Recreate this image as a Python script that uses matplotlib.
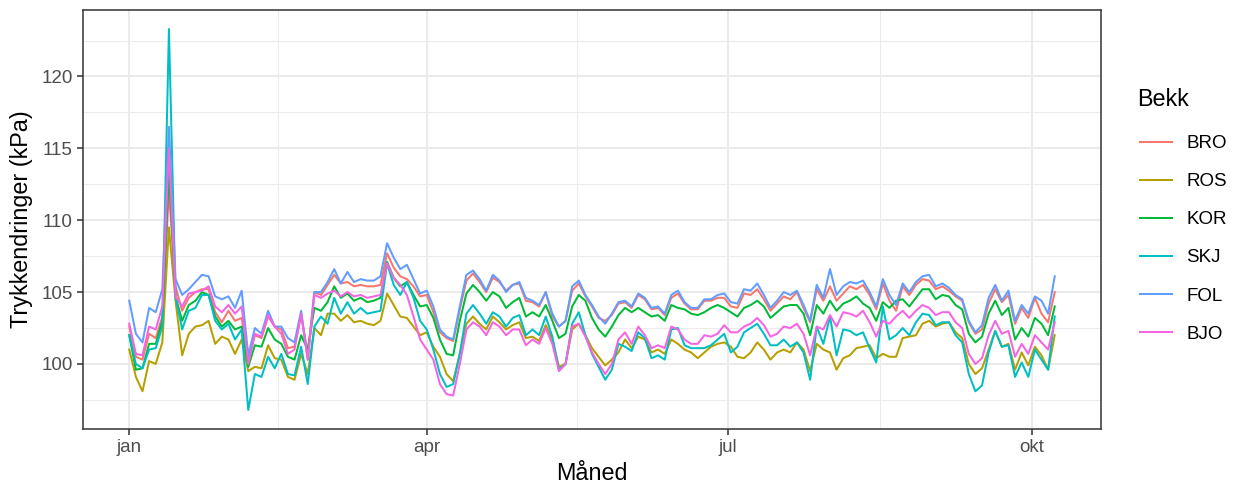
import matplotlib
matplotlib.use("Agg")
import matplotlib.pyplot as plt
import pandas as pd
import numpy as np

# ---- data (every 2nd day from 1 Jan) ----
start_date = "2019-01-01"
n_points = 141
series_names = ["BRO", "ROS", "KOR", "SKJ", "FOL", "BJO"]
series_colors = ["#F8766D", "#B79F00", "#00BA38", "#00BFC4", "#619CFF", "#F564E3"]

FOL = [104.4, 102.1, 101.5, 103.9, 103.6, 105.2, 116.5, 105.9, 104.8, 105.2, 105.7, 106.2, 106.1, 104.7, 104.5, 104.7, 103.9, 105.1, 100.6, 102.5, 102.1, 103.7, 102.6,
       102.6, 101.8, 101.5, 103.7, 100.3, 105.0, 105.0, 105.7, 106.6, 105.6, 106.4, 105.7, 105.9, 105.8, 105.8, 106.1, 108.4, 107.4, 106.6, 106.9, 105.9, 104.9, 105.1, 104.0, 102.4, 101.9,
       101.7, 104.0, 106.2, 106.5, 105.9, 105.1, 106.2, 105.8, 105.0, 105.5, 105.7, 104.6, 104.4, 104.1, 105.0, 103.5, 102.6, 103.0, 105.4, 105.8, 104.8, 104.1, 103.3, 102.8, 103.5, 104.3,
       104.4, 104.0, 104.9, 104.6, 103.9, 104.0, 103.5, 104.8, 105.1, 104.3, 103.9, 103.9, 104.5, 104.5, 104.8, 104.9, 104.3, 104.2, 105.2, 105.1, 105.6, 104.8, 103.9, 104.4, 105.0, 104.8,
       105.1, 104.1, 103.0, 105.5, 104.6, 106.6, 104.8, 105.4, 105.7, 105.6, 105.8, 105.0, 104.0, 105.9, 104.8, 104.1, 105.6, 105.0, 105.7, 106.1, 106.2, 105.4, 105.6, 105.3, 104.8, 104.5,
       103.0, 102.2, 102.7, 104.6, 105.5, 104.4, 105.1, 103.0, 104.1, 103.5, 104.7, 104.4, 103.5, 106.1]

BRO = [102.6, 100.5, 100.3, 102.1, 101.8, 103.3, 112.0, 105.4, 103.7, 104.6, 105.0, 105.2, 105.2, 103.6, 102.9, 103.7, 103.0, 103.2, 100.3, 102.0, 101.8, 103.3, 102.6,
       102.4, 101.1, 101.2, 103.4, 100.7, 105.0, 104.8, 105.5, 106.2, 105.6, 105.7, 105.4, 105.5, 105.4, 105.4, 105.5, 107.7, 106.7, 106.1, 105.9, 105.4, 104.7, 104.8, 103.6, 102.2, 101.8,
       101.6, 103.8, 105.8, 106.3, 105.7, 105.0, 106.0, 105.7, 105.1, 105.5, 105.6, 104.4, 104.3, 104.0, 105.0, 103.3, 102.6, 103.0, 105.1, 105.6, 104.7, 104.0, 103.2, 103.0, 103.4, 104.2,
       104.3, 103.9, 104.8, 104.5, 103.8, 103.9, 103.4, 104.6, 104.9, 104.2, 103.8, 103.8, 104.4, 104.4, 104.6, 104.6, 104.0, 103.9, 104.9, 104.8, 105.2, 104.5, 103.7, 104.2, 104.7, 104.5,
       105.0, 103.9, 102.9, 105.2, 104.4, 105.4, 104.4, 104.9, 105.4, 105.2, 105.5, 104.8, 103.8, 105.6, 104.4, 103.7, 105.4, 104.8, 105.5, 105.9, 105.8, 105.2, 105.4, 105.1, 104.7, 104.4,
       102.9, 102.1, 102.4, 104.2, 105.2, 104.3, 104.8, 102.8, 103.9, 103.2, 104.6, 103.5, 102.9, 105.0]

KOR = [102.0, 99.6, 99.7, 101.4, 101.4, 103.0, 113.5, 104.7, 103.0, 104.1, 104.4, 105.0, 104.8, 103.3, 102.6, 103.0, 102.4, 102.6, 99.8, 101.3, 101.2, 102.5, 101.7,
       101.4, 100.5, 100.3, 102.0, 101.0, 103.9, 103.7, 104.3, 105.4, 104.6, 104.9, 104.4, 104.6, 104.3, 104.4, 104.6, 107.1, 106.0, 105.4, 105.7, 104.8, 104.0, 104.1, 103.2, 101.7, 100.7,
       100.6, 103.0, 104.9, 105.5, 105.0, 104.4, 105.0, 104.7, 103.9, 104.3, 104.6, 103.3, 103.6, 103.3, 104.1, 103.0, 101.8, 102.1, 104.0, 104.8, 104.4, 103.2, 102.4, 101.9, 102.6, 103.4,
       103.9, 103.6, 103.9, 103.6, 103.3, 103.4, 103.0, 104.1, 103.9, 103.8, 103.5, 103.4, 103.6, 103.9, 104.1, 103.9, 103.6, 103.3, 103.9, 104.1, 104.4, 104.0, 103.2, 103.6, 104.0, 104.1,
       104.1, 103.5, 102.0, 104.1, 103.5, 104.4, 103.7, 104.2, 104.4, 104.7, 104.2, 103.9, 103.0, 104.3, 103.9, 104.4, 104.5, 104.0, 104.6, 105.2, 105.2, 104.5, 104.8, 104.7, 104.1, 103.8,
       102.1, 101.5, 101.9, 103.5, 104.4, 103.4, 103.9, 101.7, 102.5, 101.9, 103.2, 102.8, 102.0, 104.0]

SKJ = [102.0, 100.0, 99.7, 101.0, 101.1, 102.6, 123.3, 104.7, 102.4, 103.7, 103.9, 104.8, 104.8, 103.0, 102.4, 102.8, 101.7, 102.4, 96.8, 99.3, 99.1, 100.5, 99.7,
       100.7, 99.3, 99.2, 101.2, 98.6, 102.6, 103.3, 102.8, 104.6, 103.5, 104.3, 103.5, 103.9, 103.5, 103.6, 103.7, 107.0, 105.5, 104.8, 105.7, 104.6, 103.0, 102.4, 101.0, 99.3, 98.4,
       98.6, 100.7, 103.5, 104.1, 103.5, 102.8, 103.6, 103.3, 102.6, 103.2, 103.4, 102.0, 102.4, 102.0, 103.3, 101.9, 99.6, 100.0, 102.8, 103.6, 102.0, 100.7, 99.8, 98.9, 99.6, 101.4,
       101.2, 100.9, 102.2, 101.8, 100.4, 100.6, 100.3, 102.4, 102.5, 101.3, 101.1, 101.1, 101.1, 101.3, 101.7, 102.1, 100.8, 101.2, 102.2, 102.5, 102.8, 102.1, 101.3, 101.3, 101.7, 101.2,
       101.5, 100.8, 98.9, 102.6, 101.4, 103.3, 100.6, 102.4, 102.3, 102.0, 102.2, 101.1, 100.1, 104.0, 101.7, 102.0, 102.5, 102.0, 102.9, 103.5, 103.4, 102.7, 102.9, 102.9, 102.0, 101.5,
       99.3, 98.1, 98.5, 100.8, 102.3, 101.2, 101.3, 99.1, 100.1, 99.1, 101.0, 100.3, 99.6, 103.3]

ROS = [101.0, 99.1, 98.1, 100.2, 100.0, 101.5, 109.5, 104.4, 100.6, 102.1, 102.6, 102.7, 103.0, 101.4, 101.9, 101.7, 100.7, 101.7, 99.5, 99.8, 99.7, 101.3, 100.4,
       100.3, 99.1, 98.9, 100.7, 99.3, 102.5, 102.0, 103.5, 103.5, 103.0, 103.4, 102.9, 103.0, 102.8, 102.7, 103.0, 104.9, 104.1, 103.3, 103.2, 102.6, 102.0, 102.2, 101.2, 100.5, 99.3,
       98.8, 100.7, 102.8, 103.3, 102.8, 102.4, 103.3, 102.9, 102.4, 102.7, 102.9, 101.8, 101.9, 101.6, 102.7, 101.7, 99.8, 100.0, 102.4, 102.8, 102.0, 101.1, 100.5, 99.9, 100.3, 100.8,
       101.7, 101.1, 101.9, 101.7, 100.8, 101.0, 100.7, 101.7, 101.4, 101.0, 100.8, 100.4, 100.8, 101.2, 101.4, 101.5, 101.2, 100.5, 100.4, 100.8, 101.5, 101.0, 100.3, 100.8, 101.0, 100.8,
       101.5, 101.0, 99.5, 101.4, 101.0, 100.8, 99.6, 100.4, 100.6, 101.1, 101.2, 101.3, 100.4, 100.7, 100.5, 100.5, 101.8, 101.9, 102.0, 102.8, 103.0, 102.6, 102.8, 102.9, 102.2, 101.8,
       100.0, 99.3, 99.7, 101.0, 102.3, 101.2, 101.4, 99.6, 100.8, 99.9, 101.2, 100.6, 99.6, 102.0]

BJO = [102.8, 100.7, 100.6, 102.6, 102.4, 104.0, 115.0, 104.7, 104.0, 104.9, 105.0, 105.1, 105.4, 104.0, 103.6, 104.1, 103.5, 104.0, 100.0, 102.1, 101.9, 103.4, 102.6,
       102.1, 100.7, 101.0, 103.5, 100.3, 104.8, 104.6, 104.9, 105.1, 104.7, 105.0, 104.7, 104.8, 104.6, 104.7, 104.8, 107.0, 106.0, 105.5, 104.8, 103.3, 101.7, 101.0, 100.3, 98.6, 97.9,
       97.8, 100.0, 102.4, 102.9, 102.6, 102.0, 102.9, 102.6, 102.0, 102.4, 102.4, 101.3, 101.7, 101.4, 102.5, 101.4, 99.5, 100.0, 102.6, 102.8, 101.9, 100.8, 100.0, 99.3, 100.0, 101.7,
       102.2, 101.4, 102.6, 102.0, 101.1, 101.3, 101.1, 102.6, 102.4, 101.7, 101.4, 101.4, 102.0, 101.9, 102.1, 102.7, 102.2, 102.2, 102.6, 102.8, 103.2, 102.7, 101.9, 102.1, 102.6, 102.5,
       102.8, 102.1, 100.6, 102.6, 102.4, 103.4, 102.6, 103.6, 103.5, 103.3, 103.7, 102.9, 101.9, 103.0, 102.8, 103.3, 103.7, 103.2, 103.7, 104.1, 103.9, 103.4, 103.6, 103.6, 102.9, 102.5,
       100.7, 100.0, 100.4, 102.0, 103.0, 102.1, 102.3, 100.5, 101.4, 100.7, 102.0, 101.5, 101.0, 102.9]

series_values = [BRO, ROS, KOR, SKJ, FOL, BJO]
x_label = "Måned"
y_label = "Trykkendringer (kPa)"
legend_title = "Bekk"
month_labels = {1: "jan", 4: "apr", 7: "jul", 10: "okt"}

dates = pd.date_range(start_date, periods=n_points, freq="2D")

# ---- figure ----
W, H = 1239, 486
plt.rcParams["font.family"] = ["Liberation Sans", "DejaVu Sans"]
fig = plt.figure(figsize=(W / 100, H / 100), dpi=100)
ax = fig.add_axes([83 / W, 1 - 429 / H, (1101 - 83) / W, (429 - 10) / H])

for name, vals, col in zip(series_names, series_values, series_colors):
    ax.plot(dates, vals, color=col, lw=1.45, label=name, solid_joinstyle="round")

# axis limits (ggplot 5% expansion)
all_vals = np.concatenate([np.asarray(v) for v in series_values])
vmin, vmax = all_vals.min(), all_vals.max()
pad = 0.05 * (vmax - vmin)
ax.set_ylim(vmin - pad, vmax + pad)
d0, d1 = dates[0], dates[-1]
dpad = (d1 - d0) * 0.05
ax.set_xlim(d0 - dpad, d1 + dpad)

# ticks
ax.set_yticks([100, 105, 110, 115, 120])
ax.set_yticks([97.5, 102.5, 107.5, 112.5, 117.5, 122.5], minor=True)
major_dates = [pd.Timestamp(f"2019-{m:02d}-01") for m in month_labels]
ax.set_xticks(major_dates)
ax.set_xticklabels(list(month_labels.values()))
minor_dates = [major_dates[i] + (major_dates[i + 1] - major_dates[i]) / 2 for i in range(len(major_dates) - 1)]
ax.set_xticks(minor_dates, minor=True)

ax.set_axisbelow(True)
ax.grid(which="major", color="#EBEBEB", lw=1.5)
ax.grid(which="minor", color="#EBEBEB", lw=0.75)
for s in ax.spines.values():
    s.set_color("#333333")
    s.set_linewidth(1.1)
ax.tick_params(which="major", length=4.2, width=1.1, color="#333333",
               labelsize=13.5, labelcolor="#4D4D4D", pad=3)
ax.tick_params(which="minor", length=0)

ax.set_xlabel(x_label, fontsize=16.8, labelpad=4)
ax.set_ylabel(y_label, fontsize=16.8, labelpad=6)

# legend
fig.text(1137 / W, 1 - 99 / H, legend_title, fontsize=16.8, ha="left", va="center")
leg = fig.legend(loc="upper left", bbox_to_anchor=(1140 / W, 1 - 135 / H),
                 frameon=False, fontsize=13.5, handlelength=1.72, handletextpad=0.75,
                 labelspacing=1.12, borderpad=0, borderaxespad=0)
for line in leg.get_lines():
    line.set_linewidth(1.45)

fig.savefig("out.png", dpi=100, facecolor="white")
